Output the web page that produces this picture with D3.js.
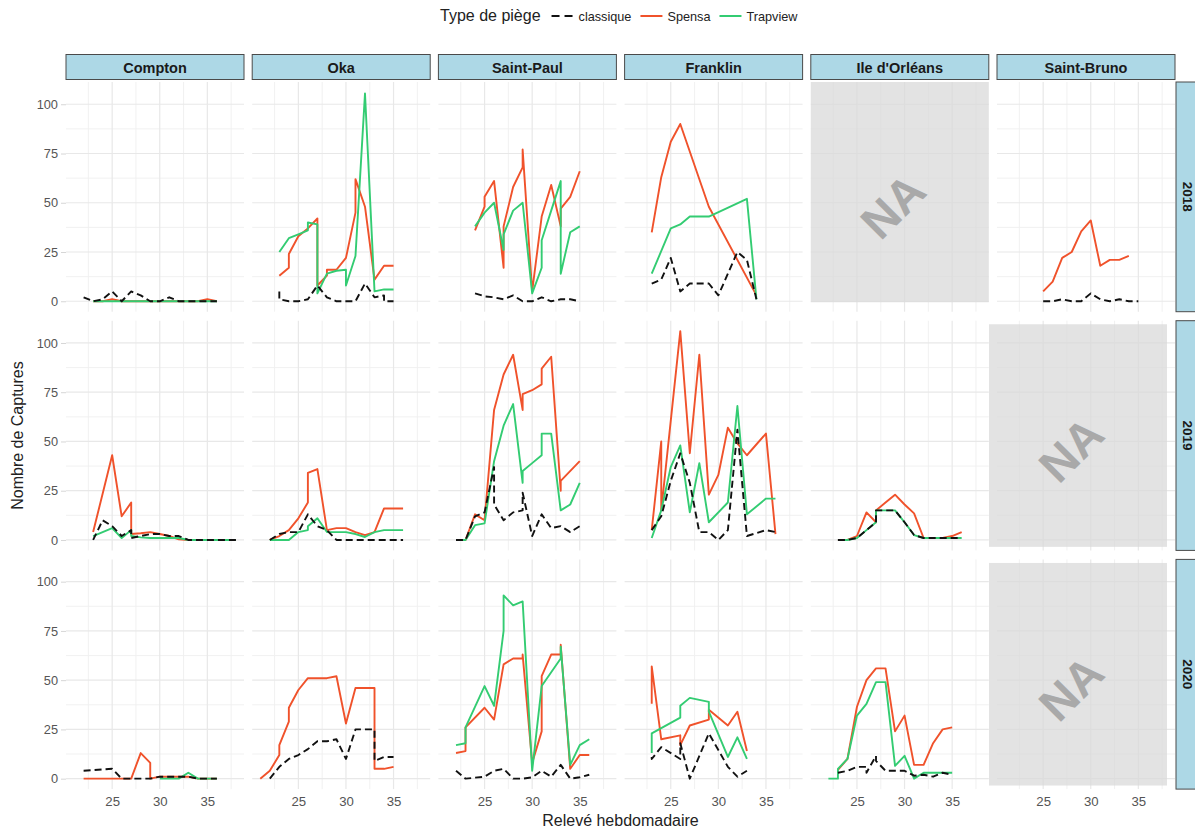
<!DOCTYPE html>
<html>
<head>
<meta charset="utf-8">
<script src="https://cdn.jsdelivr.net/npm/d3@7"></script>
<style>
  body { margin: 0; background: #fff; }
  svg { display: block; font-family: "Liberation Sans", Arial, Helvetica, sans-serif; }
</style>
</head>
<body>
<svg id="chart" width="1195" height="830"></svg>
<script>
// Facets and legend entries
const sites = ["Compton", "Oka", "Saint-Paul", "Franklin", "Ile d'Orléans", "Saint-Bruno"];
const years = ["2018", "2019", "2020"];
const trapTypes = ["classique", "Spensa", "Trapview"];
const xTicks = [25, 30, 35];
const yTicks = [0, 25, 50, 75, 100];

// Weekly captures, [relevé hebdomadaire, nombre de captures]
const compton2018Classique = [[22,2],[23,0],[24,1],[25,5],[26,0],[27,5],[28,3],[29,0],[30,0],[31,2],[32,0],[33,0],[34,0],[35,0],[36,0]];
const compton2018Spensa    = [[23,0],[24,0],[25,1],[26,0],[27,0],[28,0],[29,0],[30,0],[31,0],[32,0],[33,0],[34,0],[35,1],[36,0]];
const compton2018Trapview  = [[23,0],[24,0],[25,0],[26,0],[27,0],[28,0],[29,0],[30,0],[31,0],[32,0],[33,0],[34,0],[35,0],[36,0]];

const oka2018Classique = [[23,5],[23,1],[24,0],[25,0],[26,1],[27,8],[28,2],[29,0],[30,0],[31,0],[32,9],[33,2],[34,3],[34,0],[35,0]];
const oka2018Spensa    = [[23,13],[24,17],[24,24],[25,33],[26,37],[27,42],[27,8],[28,13],[28,16],[29,16],[30,22],[31,45],[31,62],[32,48],[33,11],[34,18],[35,18]];
const oka2018Trapview  = [[23,25],[24,32],[25,34],[26,36],[26,40],[27,39],[27,4],[28,14],[29,15.5],[30,16],[30,8],[31,23],[32,105.5],[33,5],[34,6],[35,6]];

const saintPaul2018Classique = [[24,4],[25,2.5],[26,2],[27,1],[28,3],[29,0],[30,0],[31,2],[32,0],[33,1],[34,1],[35,0]];
const saintPaul2018Spensa    = [[24,36],[25,48],[25,53],[26,61],[27,17],[27,38],[28,58],[29,68],[29,77],[30,5],[31,43],[32,59],[33,38],[33,47],[34,53],[35,66]];
const saintPaul2018Trapview  = [[24,38],[25,45],[26,50],[27,26],[27,34],[28,46],[29,50],[30,4],[31,17],[31,31],[32,46],[33,61],[33,14],[34,35],[35,38]];

const franklin2018Classique = [[23,9],[24,11],[25,22],[26,5],[27,9],[28,9],[29,9],[30,3],[32,25],[33,21],[34,1]];
const franklin2018Spensa    = [[23,35],[24,63],[25,81],[26,90],[29,48],[34,3]];
const franklin2018Trapview  = [[23,14],[25,37],[26,39],[27,43],[29,43],[33,52],[34,1]];

const saintBruno2018Classique = [[25,0],[26,0],[27,1],[28,0],[29,0],[30,4],[31,1],[32,0],[33,1],[34,0],[35,0]];
const saintBruno2018Spensa    = [[25,5],[26,10],[27,22],[28,25],[29,35.5],[30,41],[31,18],[32,21],[33,21],[34,23]];

const compton2019Classique = [[23,0],[24,10],[25,7],[26,2],[27,5],[27,1],[28,2],[29,3],[30,3],[31,2],[32,2],[33,0],[34,0],[35,0],[36,0],[37,0],[38,0]];
const compton2019Spensa    = [[23,4],[25,43],[26,12],[27,19],[27,3],[28,3.4],[29,4],[30,3],[31,2],[32,0.3],[33,0],[34,0],[35,0],[36,0],[37,0],[38,0]];
const compton2019Trapview  = [[23,2],[25,6],[26,1],[27,5],[27,2],[28,1.3],[29,1],[30,1],[31,1],[32,1],[33,0],[34,0],[35,0],[36,0],[37,0],[38,0]];

const oka2019Classique = [[22,0],[23,3],[24,4],[25,4],[26,13],[27,7],[28,5],[29,0],[30,0],[31,0],[32,0],[33,0],[34,0],[35,0],[36,0]];
const oka2019Spensa    = [[22,0],[23,2],[24,5],[25,11],[26,19],[26,34],[27,36],[28,5],[29,6],[30,6],[31,4],[32,2.5],[33,4],[34,16],[35,16],[36,16]];
const oka2019Trapview  = [[22,0],[23,0],[24,0],[25,4],[26,5],[26,7],[27,11],[28,4],[29,4],[30,4],[31,3],[32,1.5],[33,4],[34,5],[35,5],[36,5]];

const saintPaul2019Classique = [[22,0],[23,0],[24,12],[25,14],[26,37],[26,18],[27,10],[28,14],[29,15],[29,24],[30,2],[31,13],[32,6],[33,7],[34,4],[35,7]];
const saintPaul2019Spensa    = [[22,0],[23,0],[24,13],[25,10],[26,66],[27,84],[28,94],[29,66],[29,74],[30,76],[31,79],[31,87],[32,93],[33,25],[33,30],[35,40]];
const saintPaul2019Trapview  = [[22,0],[23,0],[24,7.5],[25,8.4],[26,40],[27,58],[28,69],[29,29],[29,35],[30,39],[31,43],[31,54],[32,54],[33,15],[34,18],[35,29]];

const franklin2019Classique = [[23,5],[24,12],[25,30],[26,44],[27,29],[28,4],[29,4],[30,0],[31,5],[32,56],[33,2],[35,5],[36,4]];
const franklin2019Spensa    = [[23,5],[24,50],[24,15],[26,106],[27,44],[28,94],[29,23],[30,33],[31,57],[32,49],[33,43],[35,54],[36,3]];
const franklin2019Trapview  = [[23,1],[24,15],[25,37],[26,48],[27,14],[28,39],[29,9],[31,19],[32,68],[33,13],[35,21],[36,21]];

const ileOrleans2019Classique = [[23,0],[24,0],[25,1],[26,5],[27,9],[27,15],[28,15],[29,15],[30,9],[31,2.5],[32,1],[33,1],[34,1],[35,1],[36,1]];
const ileOrleans2019Spensa    = [[23,0],[24,0],[25,2],[26,14],[27,9],[27,15],[28,19],[29,23],[30,18],[31,13.5],[32,1],[33,1],[34,1],[35,2],[36,4]];
const ileOrleans2019Trapview  = [[23,0],[24,0],[25,1],[26,5],[27,9],[27,15],[28,15],[29,15],[30,9],[31,2.5],[32,1],[33,1],[34,1],[35,1],[36,1]];

const compton2020Classique = [[22,4],[25,5],[26,0],[27,0],[28,0],[29,0],[30,1],[31,1],[32,1],[33,1],[34,0],[35,0],[36,0]];
const compton2020Spensa    = [[22,0],[23,0],[24,0],[25,0],[26,0],[27,0],[28,13],[29,8],[29,0],[30,1],[31,1],[32,1],[33,1],[34,0],[35,0],[36,0]];
const compton2020Trapview  = [[30,0],[31,0],[32,0],[33,3],[34,0],[35,0],[36,0]];

const oka2020Classique = [[22,0],[23,6],[24,10],[25,12],[26,15],[27,19],[28,19],[29,20],[30,10],[31,25],[32,25],[33,25],[33,9],[34,11],[35,11]];
const oka2020Spensa    = [[21,0],[22,4],[23,12],[23,17],[24,29],[24,36],[25,45],[26,51],[27,51],[28,51],[29,52],[30,28],[31,46],[32,46],[33,46],[33,5],[34,5],[35,6]];

const saintPaul2020Classique = [[22,4],[23,0],[24,0.5],[25,1],[26,4],[27,5],[28,0],[29,0],[30,0.7],[31,4],[32,1],[33,7],[34,0],[35,0.7],[36,2]];
const saintPaul2020Spensa    = [[22,13],[23,14],[23,26],[25,36],[26,30],[27,58],[28,61],[29,61],[29,63],[30,8],[31,24],[31,52],[32,63],[33,63],[33,68],[34,5],[35,12],[36,12]];
const saintPaul2020Trapview  = [[22,17],[23,18],[23,26],[25,47],[26,37],[27,75],[27,93],[28,88],[29,90],[30,4],[31,47],[33,61],[33,67],[34,7],[35,17],[36,20]];

const franklin2020Classique = [[23,11],[23,10],[24,16],[26,10],[26,18],[27,0],[29,23],[31,6],[32,1],[33,4]];
const franklin2020Spensa    = [[23,38],[23,57],[24,20],[26,22],[26,17],[27,27],[29,30],[29,35],[31,27],[32,34],[33,14]];
const franklin2020Trapview  = [[23,13],[23,23],[26,31],[26,37],[27,41],[29,39],[29,34],[31,11],[32,21],[33,10]];

const ileOrleans2020Classique = [[23,3],[24,4],[25,6],[26,6],[26,3],[27,11.6],[27,9],[28,4],[29,4],[30,4],[31,1.5],[32,2],[33,1],[34,3],[35,2]];
const ileOrleans2020Spensa    = [[23,4.5],[24,10],[25,36.5],[26,50],[27,56],[28,56],[29,24],[30,32],[31,7],[32,7],[33,18],[34,25],[35,26]];
const ileOrleans2020Trapview  = [[22,0],[23,0],[23,5],[24,10],[25,32],[26,38],[27,49],[28,49],[29,6.5],[30,11.6],[31,0],[32,3],[33,3],[34,3],[35,3]];

// Site-years without any trap data
const missingPanels = [["Ile d'Orléans", "2018"], ["Saint-Bruno", "2019"], ["Saint-Bruno", "2020"]];

// Long table: one row per site / year / trap type
const records = [
  ["Compton","2018","classique",compton2018Classique],["Compton","2018","Spensa",compton2018Spensa],["Compton","2018","Trapview",compton2018Trapview],
  ["Oka","2018","classique",oka2018Classique],["Oka","2018","Spensa",oka2018Spensa],["Oka","2018","Trapview",oka2018Trapview],
  ["Saint-Paul","2018","classique",saintPaul2018Classique],["Saint-Paul","2018","Spensa",saintPaul2018Spensa],["Saint-Paul","2018","Trapview",saintPaul2018Trapview],
  ["Franklin","2018","classique",franklin2018Classique],["Franklin","2018","Spensa",franklin2018Spensa],["Franklin","2018","Trapview",franklin2018Trapview],
  ["Saint-Bruno","2018","classique",saintBruno2018Classique],["Saint-Bruno","2018","Spensa",saintBruno2018Spensa],
  ["Compton","2019","classique",compton2019Classique],["Compton","2019","Spensa",compton2019Spensa],["Compton","2019","Trapview",compton2019Trapview],
  ["Oka","2019","classique",oka2019Classique],["Oka","2019","Spensa",oka2019Spensa],["Oka","2019","Trapview",oka2019Trapview],
  ["Saint-Paul","2019","classique",saintPaul2019Classique],["Saint-Paul","2019","Spensa",saintPaul2019Spensa],["Saint-Paul","2019","Trapview",saintPaul2019Trapview],
  ["Franklin","2019","classique",franklin2019Classique],["Franklin","2019","Spensa",franklin2019Spensa],["Franklin","2019","Trapview",franklin2019Trapview],
  ["Ile d'Orléans","2019","classique",ileOrleans2019Classique],["Ile d'Orléans","2019","Spensa",ileOrleans2019Spensa],["Ile d'Orléans","2019","Trapview",ileOrleans2019Trapview],
  ["Compton","2020","classique",compton2020Classique],["Compton","2020","Spensa",compton2020Spensa],["Compton","2020","Trapview",compton2020Trapview],
  ["Oka","2020","classique",oka2020Classique],["Oka","2020","Spensa",oka2020Spensa],
  ["Saint-Paul","2020","classique",saintPaul2020Classique],["Saint-Paul","2020","Spensa",saintPaul2020Spensa],["Saint-Paul","2020","Trapview",saintPaul2020Trapview],
  ["Franklin","2020","classique",franklin2020Classique],["Franklin","2020","Spensa",franklin2020Spensa],["Franklin","2020","Trapview",franklin2020Trapview],
  ["Ile d'Orléans","2020","classique",ileOrleans2020Classique],["Ile d'Orléans","2020","Spensa",ileOrleans2020Spensa],["Ile d'Orléans","2020","Trapview",ileOrleans2020Trapview]
].map(([site, year, type, pts]) => ({ site, year, type, pts }));

// ---- layout ----
const colLeft = 66, colStep = 186.2, panelW = 178;
const rowTop = 82, rowStep = 238.7, panelH = 229.7;

const colour = d3.scaleOrdinal().domain(trapTypes).range(["#111111", "#F0522B", "#33CC72"]);
const dash = { classique: "7,4", Spensa: null, Trapview: null };
const drawOrder = ["Spensa", "Trapview", "classique"];

const allPts = records.flatMap(r => r.pts);
const [wMin, wMax] = d3.extent(allPts, d => d[0]);
const wPad = (wMax - wMin) * 0.05;
const x = d3.scaleLinear().domain([wMin - wPad, wMax + wPad]).range([0, panelW]);
const vMax = d3.max(allPts, d => d[1]);
const vPad = vMax * 0.05;
const y = d3.scaleLinear().domain([-vPad, vMax + vPad]).range([panelH, 0]);

function minorBreaks(major, domain) {
  const step = major[1] - major[0];
  const out = [];
  for (let v = major[0] - step / 2; v <= domain[1]; v += step) {
    if (v >= domain[0]) out.push(v);
  }
  return out;
}
const xMinor = minorBreaks(xTicks, x.domain());
const yMinor = minorBreaks(yTicks, y.domain());

const svg = d3.select("#chart");
svg.append("rect").attr("width", 1195).attr("height", 830).attr("fill", "#fff");

const line = d3.line().x(d => x(d[0])).y(d => y(d[1]));

years.forEach((yr, j) => {
  sites.forEach((site, i) => {
    const g = svg.append("g")
      .attr("transform", `translate(${colLeft + i * colStep},${rowTop + j * rowStep})`);

    // grid
    const grid = g.append("g");
    grid.selectAll(".vmin").data(xMinor).join("line")
      .attr("x1", d => x(d)).attr("x2", d => x(d)).attr("y1", 0).attr("y2", panelH)
      .attr("stroke", "#efefef").attr("stroke-width", 0.9);
    grid.selectAll(".hmin").data(yMinor).join("line")
      .attr("y1", d => y(d)).attr("y2", d => y(d)).attr("x1", 0).attr("x2", panelW)
      .attr("stroke", "#efefef").attr("stroke-width", 0.9);
    grid.selectAll(".vmaj").data(xTicks).join("line")
      .attr("x1", d => x(d)).attr("x2", d => x(d)).attr("y1", 0).attr("y2", panelH)
      .attr("stroke", "#e8e8e8").attr("stroke-width", 1.2);
    grid.selectAll(".hmaj").data(yTicks).join("line")
      .attr("y1", d => y(d)).attr("y2", d => y(d)).attr("x1", 0).attr("x2", panelW)
      .attr("stroke", "#e8e8e8").attr("stroke-width", 1.2);

    const isMissing = missingPanels.some(([s, yy]) => s === site && yy === yr);
    if (isMissing) {
      // grey "no data" block with a large tilted NA label
      const shift = j === 0 ? 0 : -0.84;
      const top = j === 0 ? y.domain()[1] : 109.5;
      const bottom = j === 0 ? -0.5 : -3.5;
      const x0 = x(x.domain()[0] + shift), x1 = x(x.domain()[1] + shift);
      g.append("rect")
        .attr("x", x0).attr("y", y(top))
        .attr("width", x1 - x0).attr("height", y(bottom) - y(top))
        .attr("fill", "#d8d8d8").attr("fill-opacity", 0.72);
      const cx = (x0 + x1) / 2 - 7, cy = (y(top) + y(bottom)) / 2 + 14;
      g.append("text")
        .attr("transform", `translate(${cx},${cy}) rotate(-45)`)
        .attr("text-anchor", "middle").attr("dominant-baseline", "central")
        .attr("font-size", 47).attr("font-weight", "bold").attr("fill", "#a9a9a9")
        .text("NA");
    } else {
      drawOrder.forEach(type => {
        const rec = records.find(r => r.site === site && r.year === yr && r.type === type);
        if (!rec) return;
        g.append("path")
          .datum(rec.pts)
          .attr("d", line)
          .attr("fill", "none")
          .attr("stroke", colour(type))
          .attr("stroke-width", 1.9)
          .attr("stroke-linejoin", "round")
          .attr("stroke-dasharray", dash[type]);
      });
    }

    // left axis on first column
    if (i === 0) {
      const ax = g.append("g").call(d3.axisLeft(y).tickValues(yTicks).tickSize(5).tickPadding(3));
      ax.select(".domain").remove();
      ax.selectAll(".tick line").attr("stroke", "#d6d6d6");
      ax.selectAll("text").attr("font-size", 12.8).attr("fill", "#555")
        .attr("font-family", "Liberation Sans, Arial, sans-serif");
    }
    // bottom axis on last row
    if (j === years.length - 1) {
      const ax = g.append("g").attr("transform", `translate(0,${panelH})`)
        .call(d3.axisBottom(x).tickValues(xTicks).tickSize(0).tickPadding(8));
      ax.select(".domain").remove();
      ax.selectAll("text").attr("font-size", 13.2).attr("fill", "#555")
        .attr("font-family", "Liberation Sans, Arial, sans-serif");
    }
  });
});

// column strips
sites.forEach((site, i) => {
  const sx = colLeft + i * colStep;
  svg.append("rect").attr("x", sx).attr("y", 54.5).attr("width", panelW).attr("height", 25)
    .attr("fill", "#ADD8E6").attr("stroke", "#4a4a4a").attr("stroke-width", 1);
  svg.append("text").attr("x", sx + panelW / 2).attr("y", 67.5)
    .attr("text-anchor", "middle").attr("dominant-baseline", "central")
    .attr("font-size", 14.5).attr("font-weight", "bold").attr("fill", "#1a1a1a")
    .text(site);
});

// row strips
years.forEach((yr, j) => {
  const sy = rowTop + j * rowStep;
  svg.append("rect").attr("x", 1176).attr("y", sy).attr("width", 24).attr("height", panelH)
    .attr("fill", "#ADD8E6").attr("stroke", "#4a4a4a").attr("stroke-width", 1);
  svg.append("text")
    .attr("transform", `translate(1187,${sy + panelH / 2}) rotate(90)`)
    .attr("text-anchor", "middle").attr("dominant-baseline", "central")
    .attr("font-size", 13.5).attr("font-weight", "bold").attr("fill", "#1a1a1a")
    .text(yr);
});

// axis titles
svg.append("text").attr("x", colLeft + (colStep * 5 + panelW) / 2).attr("y", 826)
  .attr("text-anchor", "middle").attr("font-size", 16).attr("fill", "#222")
  .text("Relevé hebdomadaire");
svg.append("text")
  .attr("transform", `translate(23,${rowTop + (rowStep * 2 + panelH) / 2}) rotate(-90)`)
  .attr("text-anchor", "middle").attr("font-size", 16).attr("fill", "#222")
  .text("Nombre de Captures");

// legend
const legend = svg.append("g").attr("transform", "translate(440,21)");
const title = legend.append("text").attr("font-size", 16).attr("fill", "#222").text("Type de piège");
let lx = title.node().getComputedTextLength() + 11;
trapTypes.forEach(type => {
  legend.append("line").attr("x1", lx).attr("x2", lx + 22).attr("y1", -5).attr("y2", -5)
    .attr("stroke", colour(type)).attr("stroke-width", 2)
    .attr("stroke-dasharray", type === "classique" ? "8,5" : null);
  const t = legend.append("text").attr("x", lx + 27).attr("font-size", 12.7).attr("fill", "#222").text(type);
  lx += 27 + t.node().getComputedTextLength() + 9;
});
</script>
</body>
</html>
